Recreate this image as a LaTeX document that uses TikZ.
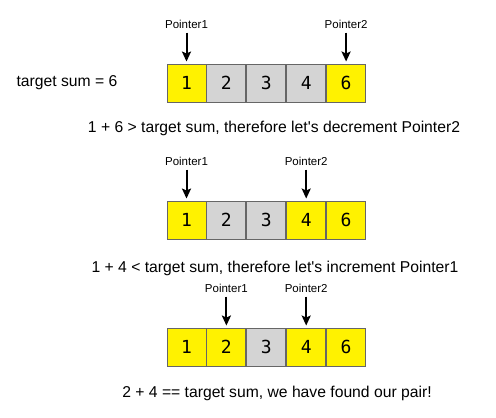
\documentclass[tikz,border=0pt]{standalone}
\usepackage{fontspec}
\setmainfont{Liberation Sans}
\newfontfamily\cellfont{DejaVu Sans Mono}
\usetikzlibrary{positioning,arrows.meta}

\begin{document}
\begin{tikzpicture}[x=1pt,y=-1pt,
      cell/.style={rectangle,draw=black!60,line width=0.9pt,
                   minimum width=39pt,minimum height=38pt,inner sep=0pt,
                   font=\cellfont\fontsize{18}{20}\selectfont},
      hit/.style={cell,fill=yellow},
      miss/.style={cell,fill=black!17},
      ptrlabel/.style={inner sep=2pt,text height=8pt,text depth=0pt,
                       font=\fontsize{11.5}{13}\selectfont},
      pointer/.style={draw,line width=2pt,-{Stealth[length=10pt,width=9pt,inset=2pt]},
                      shorten <=2pt,shorten >=2pt},
      caption/.style={inner sep=0pt,font=\fontsize{15.7}{18}\selectfont},
    ]
      \useasboundingbox (0,0) rectangle (496,418);
      % first step
      \node[hit] (r1c1) at (186.5,83) {1};
      \node[miss, right=0pt of r1c1] (r1c2) {2};
      \node[miss, right=0pt of r1c2] (r1c3) {3};
      \node[miss, right=0pt of r1c3] (r1c4) {4};
      \node[hit, right=0pt of r1c4] (r1c5) {6};
      \node[caption, left=49pt of r1c1] (target) {target sum = 6};
      \node[ptrlabel, above=33pt of r1c1] (r1p1) {Pointer1};
      \node[ptrlabel, above=33pt of r1c5] (r1p2) {Pointer2};
      \path (r1p1) edge[pointer] (r1c1);
      \path (r1p2) edge[pointer] (r1c5);
      \node[caption] (cap1) at (274,128) {1 + 6 > target sum, therefore let\textquotesingle s decrement Pointer2};
      % second step
      \node[hit] (r2c1) at (186.5,220) {1};
      \node[miss, right=0pt of r2c1] (r2c2) {2};
      \node[miss, right=0pt of r2c2] (r2c3) {3};
      \node[hit, right=0pt of r2c3] (r2c4) {4};
      \node[hit, right=0pt of r2c4] (r2c5) {6};
      \node[ptrlabel, above=33pt of r2c1] (r2p1) {Pointer1};
      \node[ptrlabel, above=33pt of r2c4] (r2p2) {Pointer2};
      \path (r2p1) edge[pointer] (r2c1);
      \path (r2p2) edge[pointer] (r2c4);
      \node[caption] (cap2) at (275,268) {1 + 4 < target sum, therefore let\textquotesingle s increment Pointer1};
      % third step
      \node[hit] (r3c1) at (186.5,347) {1};
      \node[hit, right=0pt of r3c1] (r3c2) {2};
      \node[miss, right=0pt of r3c2] (r3c3) {3};
      \node[hit, right=0pt of r3c3] (r3c4) {4};
      \node[hit, right=0pt of r3c4] (r3c5) {6};
      \node[ptrlabel, above=33pt of r3c2] (r3p1) {Pointer1};
      \node[ptrlabel, above=33pt of r3c4] (r3p2) {Pointer2};
      \path (r3p1) edge[pointer] (r3c2);
      \path (r3p2) edge[pointer] (r3c4);
      \node[caption] (cap3) at (277,393) {2 + 4 == target sum, we have found our pair!};
    \end{tikzpicture}
\end{document}
